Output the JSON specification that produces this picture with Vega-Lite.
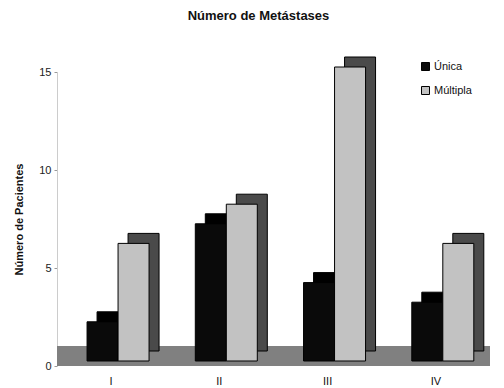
{
  "$schema": "https://vega.github.io/schema/vega-lite/v6.json",
  "width": 433,
  "height": 294,
  "autosize": {"type": "none"},
  "padding": {"left": 57, "top": 72, "right": 14, "bottom": 22},
  "background": "white",
  "config": {
    "font": "Liberation Sans",
    "view": {"stroke": null}
  },
  "title": {
    "text": "Número de Metástases",
    "fontSize": 13,
    "fontWeight": "bold",
    "color": "#111",
    "anchor": "middle",
    "offset": 34,
    "dx": -15
  },
  "data": {
    "values": [
      {"grupo": "I", "tipo": "Única", "pacientes": 2},
      {"grupo": "I", "tipo": "Múltipla", "pacientes": 6},
      {"grupo": "II", "tipo": "Única", "pacientes": 7},
      {"grupo": "II", "tipo": "Múltipla", "pacientes": 8},
      {"grupo": "III", "tipo": "Única", "pacientes": 4},
      {"grupo": "III", "tipo": "Múltipla", "pacientes": 15},
      {"grupo": "IV", "tipo": "Única", "pacientes": 3},
      {"grupo": "IV", "tipo": "Múltipla", "pacientes": 6}
    ]
  },
  "resolve": {"scale": {"color": "independent", "xOffset": "independent"}},
  "layer": [
    {
      "mark": {"type": "rect", "color": "#808080"},
      "encoding": {
        "y": {"datum": 0, "type": "quantitative", "scale": {"domain": [0, 15], "nice": false},
          "axis": {
            "title": "Número de Pacientes", "titleFontSize": 11, "titleFontWeight": "bold", "titleColor": "#111",
            "titlePadding": 14, "values": [0, 5, 10, 15], "grid": false,
            "domainColor": "#cccccc", "tickColor": "#999", "tickSize": 3,
            "labelFontSize": 11, "labelColor": "#222", "labelPadding": 3
          }},
        "y2": {"datum": 1}
      }
    },
    {
      "mark": {"type": "bar", "yOffset": -15, "stroke": "#000", "strokeWidth": 1, "clip": false},
      "encoding": {
        "x": {"field": "grupo", "type": "nominal", "sort": ["I", "II", "III", "IV"], "scale": {"paddingInner": 0.426, "paddingOuter": 0.213},
          "axis": {"title": null, "domain": false, "ticks": false, "labelAngle": 0, "labelFontSize": 11, "labelColor": "#111", "labelPadding": 9}},
        "xOffset": {"field": "tipo", "type": "nominal", "sort": ["Única", "Múltipla"], "scale": {"paddingInner": 0, "paddingOuter": 0, "range": [17, 79]}},
        "y": {"field": "pacientes", "type": "quantitative", "scale": {"domain": [0, 15], "nice": false}},
        "color": {"field": "tipo", "type": "nominal", "sort": ["Única", "Múltipla"], "scale": {"range": ["#000000", "#4a4a4a"]}, "legend": null}
      }
    },
    {
      "mark": {"type": "bar", "yOffset": -5, "stroke": "#000", "strokeWidth": 1, "clip": false},
      "encoding": {
        "x": {"field": "grupo", "type": "nominal", "sort": ["I", "II", "III", "IV"], "scale": {"paddingInner": 0.426, "paddingOuter": 0.213}},
        "xOffset": {"field": "tipo", "type": "nominal", "sort": ["Única", "Múltipla"], "scale": {"paddingInner": 0, "paddingOuter": 0, "range": [7, 69]}},
        "y": {"field": "pacientes", "type": "quantitative", "scale": {"domain": [0, 15], "nice": false}},
        "color": {
          "field": "tipo", "type": "nominal", "sort": ["Única", "Múltipla"],
          "scale": {"range": ["#0a0a0a", "#c2c2c2"]},
          "legend": {
            "title": null, "orient": "none", "legendX": 363, "legendY": -11,
            "symbolType": "square", "symbolSize": 64, "symbolStrokeColor": "#000", "symbolStrokeWidth": 1,
            "labelFontSize": 11, "labelColor": "#111", "rowPadding": 11, "labelOffset": 3
          }
        }
      }
    }
  ]
}
